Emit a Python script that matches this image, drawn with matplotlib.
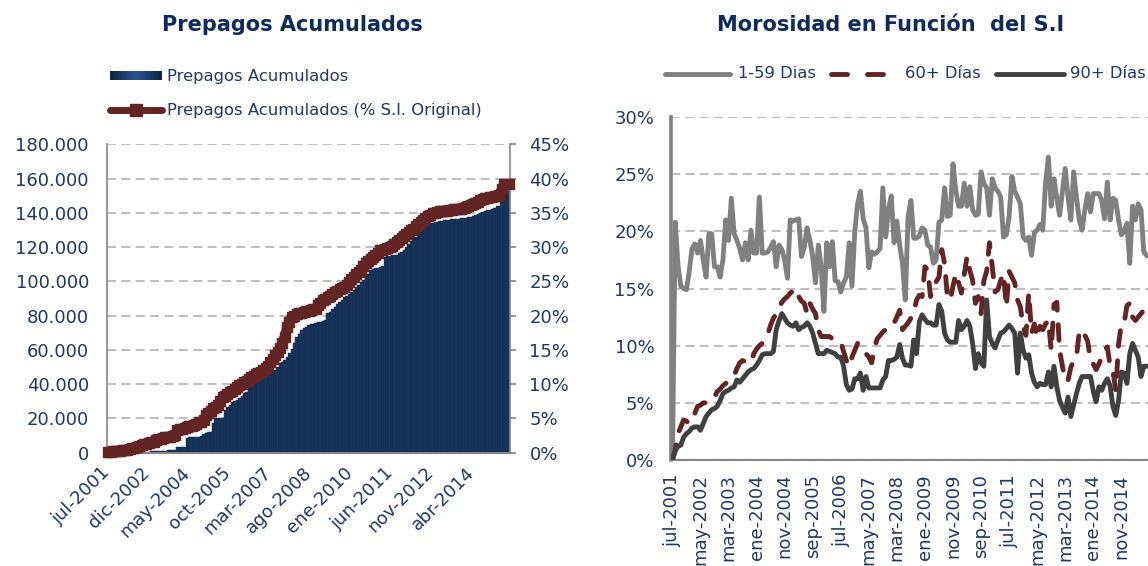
import matplotlib
matplotlib.use("Agg")
import matplotlib.pyplot as plt
from matplotlib.lines import Line2D
from matplotlib.colors import LinearSegmentedColormap
from matplotlib.transforms import ScaledTranslation
import numpy as np

plt.rcParams['font.family'] = ['DejaVu Sans']

# ---------------- data ----------------
# prepagos acumulados (monthly, jul-2001 .. jul-2015)
prepagos = [
    0, 0, 0, 0, 0, 100, 100, 150, 150, 200,
    250, 300, 300, 350, 400, 450, 500, 550, 600, 650,
    700, 800, 900, 1000, 1100, 1200, 1300, 1400, 1500,
    3000, 3200, 3400, 3400,
    8300, 9000, 9000, 9100, 9200, 9300, 9500,
    10900, 11500, 12000, 12100,
    17000,
    19900, 20000, 20000, 20200,
    24800, 26700,
    27700, 29600, 29800, 30500,
    31600, 33000, 34500, 35500,
    37400, 38500, 40000, 41200,
    42000, 43000, 44000, 45200,
    45500, 46500, 47300, 48100, 50000,
    52000, 52900, 54000, 55900, 58000,
    60700, 64000, 67500,
    69000, 71400, 72500, 73400, 74300,
    74800, 75200, 75500, 76000, 76500, 77000,
    77300, 81200, 82000, 83900, 85000,
    86500, 87900, 89000, 90800, 91500,
    92800, 94000, 95000, 96700, 98000,
    99500, 100600, 103000, 104500, 106400,
    107000, 107500, 108000, 108400, 109000,
    114200, 114800, 115000, 115200, 115200,
    115400, 116500, 117000, 118100, 120000,
    122000, 123500, 125000, 125800, 126800,
    128500, 130700, 131500, 132500, 133700,
    134200, 134500, 134800, 135000, 135300,
    135600, 135800, 136000, 136200, 136300,
    136500, 136600, 136700, 136800, 137000,
    137300, 137500, 137900, 138500, 139500,
    140000, 140500, 141000, 141500, 141800,
    142500, 143000, 143700, 144200, 146200,
    148000, 150200, 153000,
]

# prepagos acumulados as % of original S.I.
prepagos_pct = [
    0.1, 0.1, 0.15, 0.2, 0.2, 0.25, 0.3, 0.35, 0.4, 0.5,
    0.6, 0.7, 0.8, 1.0, 1.1, 1.2, 1.3, 1.4, 1.5, 1.6,
    1.8, 1.9, 2.0, 2.1, 2.2, 2.3, 2.3, 2.4, 2.6, 3.3,
    3.4, 3.5, 3.6, 3.7, 3.8, 3.9, 4.0, 4.2, 4.4, 4.5,
    4.7, 5.5, 5.8, 6.1, 6.5, 6.7, 6.9, 7.5, 8.1, 8.3,
    8.6, 8.9, 9.0, 9.2, 9.5, 9.8, 10.0, 10.3, 10.5, 10.8,
    11.0, 11.2, 11.5, 11.6, 11.8, 12.0, 12.3, 12.6, 13.2, 13.6,
    14.2, 14.7, 15.2, 16.0, 16.9, 18.3, 19.0, 19.8, 20.0, 20.2,
    20.3, 20.4, 20.5, 20.6, 20.7, 20.8, 20.9, 21.0, 21.5, 21.9,
    22.2, 22.4, 22.7, 22.9, 23.2, 23.4, 23.6, 23.8, 24.0, 24.2,
    24.5, 24.9, 25.3, 25.6, 26.0, 26.4, 26.6, 27.2, 27.6, 28.0,
    28.3, 28.6, 28.9, 29.2, 29.5, 29.6, 29.7, 29.8, 30.0, 30.2,
    30.4, 30.7, 31.0, 31.3, 31.6, 31.9, 32.2, 32.5, 32.7, 33.0,
    33.3, 33.6, 33.9, 34.2, 34.5, 34.7, 34.9, 35.0, 35.1, 35.2,
    35.2, 35.3, 35.3, 35.4, 35.4, 35.5, 35.5, 35.6, 35.6, 35.7,
    35.8, 36.0, 36.1, 36.3, 36.5, 36.6, 36.8, 37.0, 37.1, 37.2,
    37.3, 37.3, 37.4, 37.4, 37.6, 38.5, 39.2, 39.2, 39.2,
]

left_ticks = ["jul-2001", "dic-2002", "may-2004", "oct-2005", "mar-2007",
              "ago-2008", "ene-2010", "jun-2011", "nov-2012", "abr-2014"]

# morosidad (% of S.I.), monthly from jul-2001
mora_1_59 = [
    0, 20.8, 17.0, 15.2, 15.0, 14.9, 16.5, 18.5, 18.9, 18.1,
    19.2, 17.5, 16.0, 19.8, 19.8, 16.9, 16.9, 16.0, 17.5, 21.0,
    19.2, 22.9, 19.8, 19.2, 18.5, 17.5, 19.0, 17.5, 20.1, 18.1,
    18.1, 23.0, 18.1, 18.1, 18.2, 18.6, 19.1, 16.9, 18.8, 18.4,
    17.5, 15.9, 21.0, 20.9, 21.0, 21.1, 17.8, 18.6, 20.3, 19.2,
    17.8, 15.5, 18.8, 16.9, 13.0, 19.0, 16.9, 19.1, 15.7, 15.6,
    14.7, 15.5, 16.0, 19.0, 15.2, 20.0, 22.4, 23.5, 21.1, 20.3,
    16.8, 18.2, 18.0, 18.2, 18.5, 23.8, 19.5, 21.9, 23.1, 19.0,
    20.9, 18.8, 17.2, 14.0, 21.3, 22.7, 19.4, 19.4, 19.6, 20.3,
    20.1, 18.8, 18.6, 17.2, 17.5, 20.8, 21.0, 23.8, 21.3, 21.4,
    25.9, 23.6, 22.2, 22.2, 24.2, 22.2, 23.9, 21.9, 21.4, 21.5,
    25.2, 24.2, 23.8, 21.4, 24.6, 23.8, 23.5, 23.0, 19.5, 19.7,
    21.3, 24.8, 23.5, 23.0, 22.4, 19.5, 19.2, 19.5, 17.9, 19.9,
    20.1, 20.6, 20.1, 24.3, 26.5, 22.2, 24.6, 22.9, 21.4, 23.5,
    25.5, 23.0, 21.0, 25.2, 23.0, 21.0, 20.1, 21.9, 23.3, 21.7,
    23.3, 23.3, 23.3, 22.7, 21.1, 24.3, 21.0, 22.9, 22.7, 21.0,
    19.7, 20.0, 20.7, 17.2, 22.2, 21.0, 22.4, 21.9, 18.2, 17.9,
]

mora_60 = [
    0, 0.9, 2.3, 2.9, 3.5, 3.4, 3.2, 3.8, 4.1, 4.7,
    4.8, 5.0, 5.0, 5.1, 5.2, 5.5, 6.0, 6.2, 6.5, 6.7,
    6.9, 7.1, 7.4, 8.0, 8.5, 8.7, 8.6, 8.6, 8.5, 9.3,
    9.7, 10.0, 10.2, 10.6, 11.0, 11.8, 12.4, 12.8, 13.3, 13.8,
    14.1, 14.3, 14.6, 14.8, 15.0, 14.3, 13.9, 13.7, 12.8, 13.7,
    13.2, 12.8, 11.4, 10.8, 10.8, 10.8, 10.8, 10.6, 10.5, 10.4,
    10.3, 9.5, 8.7, 8.2, 9.0, 9.6, 10.2, 9.8, 9.6, 9.3,
    9.0, 8.5, 9.8, 10.6, 10.9, 11.2, 11.4, 11.4, 11.8, 12.0,
    12.5, 13.1, 11.4, 11.7, 12.0, 12.4, 12.8, 14.0, 14.4, 14.3,
    16.9, 16.6, 14.3, 15.3, 15.6, 16.0, 18.4, 17.2, 14.3, 14.0,
    15.2, 16.3, 15.5, 14.6, 16.2, 17.8, 16.6, 15.7, 13.7, 14.3,
    12.8, 15.7, 16.5, 19.0, 16.9, 14.7, 14.9, 15.7, 16.3, 13.4,
    16.5, 16.0, 15.5, 14.0, 13.4, 11.7, 10.9, 14.6, 11.1, 11.9,
    10.7, 11.7, 11.4, 11.9, 12.2, 9.6, 13.6, 13.8, 9.6, 8.2,
    6.9, 7.0, 8.1, 8.7, 9.0, 11.2, 11.4, 10.9, 10.4, 8.7,
    8.4, 7.9, 8.4, 9.0, 9.6, 9.9, 8.2, 7.8, 6.1, 10.1,
    11.9, 12.0, 13.5, 13.7, 12.5, 12.2, 12.5, 12.8, 13.1, 13.1,
]

mora_90 = [
    0, 0.8, 1.2, 1.3, 2.0, 2.3, 2.5, 2.8, 2.9, 2.9,
    2.6, 3.2, 3.8, 4.1, 4.4, 4.5, 4.7, 5.2, 5.8, 6.0,
    6.1, 6.3, 6.4, 7.0, 6.8, 7.1, 7.4, 7.7, 7.9, 8.0,
    8.3, 8.7, 9.2, 9.3, 9.3, 9.3, 9.5, 11.4, 12.2, 12.8,
    12.4, 12.0, 11.8, 11.7, 12.0, 11.4, 11.6, 11.7, 12.0, 11.7,
    11.1, 10.2, 9.3, 9.3, 9.3, 9.6, 9.5, 9.4, 9.3, 9.0,
    9.0, 8.2, 6.6, 6.1, 6.2, 7.1, 7.1, 7.6, 6.1, 7.3,
    6.3, 6.3, 6.3, 6.3, 6.3, 7.0, 7.3, 8.7, 8.7, 8.8,
    9.0, 10.1, 8.9, 8.3, 8.3, 8.2, 10.5, 9.3, 12.1, 12.7,
    12.3, 12.0, 12.0, 11.8, 11.8, 13.6, 13.0, 11.1, 10.5, 10.3,
    10.3, 10.3, 12.2, 11.4, 11.7, 12.2, 11.7, 10.2, 8.0, 9.3,
    8.5, 8.2, 14.0, 10.8, 10.2, 9.8, 10.5, 11.1, 11.2, 11.5,
    11.8, 11.5, 11.1, 7.6, 11.1, 9.6, 8.9, 9.2, 7.6, 6.8,
    6.4, 6.7, 6.6, 6.6, 7.7, 6.4, 8.2, 6.4, 5.2, 4.6,
    4.1, 5.5, 3.8, 4.8, 5.8, 6.7, 7.3, 7.3, 7.3, 7.3,
    6.0, 5.1, 6.4, 6.1, 6.7, 7.1, 6.5, 4.7, 3.9, 5.2,
    7.7, 7.6, 6.7, 9.3, 10.2, 9.6, 9.0, 7.3, 8.2, 8.2,
]

right_ticks = ["jul-2001", "may-2002", "mar-2003", "ene-2004", "nov-2004",
               "sep-2005", "jul-2006", "may-2007", "mar-2008", "ene-2009",
               "nov-2009", "sep-2010", "jul-2011", "may-2012", "mar-2013",
               "ene-2014", "nov-2014"]

# ---------------- style ----------------
NAVY = '#1F3864'
TITLE = '#0E2A5E'
MAROON = '#632523'
GRID = '#BFBFBF'
SPINE = '#868686'

W, H = 1148, 566
fig = plt.figure(figsize=(W / 100, H / 100), dpi=100)


def fx(px):
    return px / W


def fy(py):
    return 1 - py / H


# ---------------- left chart ----------------
ax1 = fig.add_axes([fx(107), fy(452.5), fx(510) - fx(107), fy(144.3) - fy(452.5)])
x1 = np.arange(len(prepagos))
ax1.bar(x1, prepagos, width=1.0, color='#17365D', edgecolor='#0F2746',
        linewidth=0.3, zorder=2)
ax1.set_xlim(-0.5, len(prepagos) - 0.5)
ax1.set_ylim(0, 180000)
yt = np.arange(0, 180001, 20000)
ax1.set_yticks(yt)
ax1.set_yticklabels([f"{v:,}".replace(",", ".") for v in yt])
ax1.yaxis.grid(True, color=GRID, linestyle=(0, (4.3, 2.6)), linewidth=1.5)
ax1.set_axisbelow(True)
ax1.set_xticks(np.arange(len(left_ticks)) * 17)
ax1.set_xticklabels(left_ticks, rotation=45, ha='right', va='top',
                    rotation_mode='anchor')
ax1.tick_params(axis='y', length=0, pad=13, labelsize=13, labelcolor=NAVY)
ax1.tick_params(axis='x', length=0, pad=8, labelsize=13, labelcolor=NAVY)
# nudge the slanted labels a bit to the left, like the original
shift = ScaledTranslation(-8 / 100, 0, fig.dpi_scale_trans)
for lab in ax1.get_xticklabels():
    lab.set_transform(lab.get_transform() + shift)
for s in ['top', 'right']:
    ax1.spines[s].set_visible(False)
for s in ['left', 'bottom']:
    ax1.spines[s].set_color(SPINE)
ax1.spines['left'].set_linewidth(1.2)
ax1.spines['bottom'].set_linewidth(1.5)

ax2 = ax1.twinx()
ax2.plot(x1, np.array(prepagos_pct) / 100, color=MAROON, lw=7, marker='s',
         ms=7, mec=MAROON, mfc=MAROON, clip_on=False, zorder=3,
         solid_joinstyle='miter')
ax2.set_ylim(0, 0.45)
pt = np.arange(0, 0.451, 0.05)
ax2.set_yticks(pt)
ax2.set_yticklabels([f"{round(v * 100)}%" for v in pt])
ax2.tick_params(axis='y', length=4, width=1.2, color=SPINE, pad=10,
                labelsize=13, labelcolor=NAVY)
for s in ['top', 'left', 'bottom']:
    ax2.spines[s].set_visible(False)
ax2.spines['right'].set_color(SPINE)
ax2.spines['right'].set_linewidth(1.2)

fig.text(fx(292), fy(25), 'Prepagos Acumulados', ha='center', va='center',
         fontsize=15, fontweight='bold', color=TITLE)

# legend (left)
lg = fig.add_axes([fx(110), fy(80), fx(162) - fx(110), 9 / H])
grad = np.concatenate([np.linspace(0, 1, 50), np.linspace(1, 0, 50)])[None, :]
cmap = LinearSegmentedColormap.from_list('bar', ['#0F2340', '#2B5490'])
lg.imshow(grad, aspect='auto', cmap=cmap)
lg.axis('off')
fig.text(fx(167), fy(76), 'Prepagos Acumulados', ha='left', va='center',
         fontsize=11.8, color=NAVY)
fig.add_artist(Line2D([fx(110), fx(162)], [fy(110), fy(110)], lw=5,
                      color=MAROON, solid_capstyle='round'))
fig.add_artist(Line2D([fx(136)], [fy(110)], marker='s', ms=8, color=MAROON))
fig.text(fx(167), fy(110), 'Prepagos Acumulados (% S.I. Original)',
         ha='left', va='center', fontsize=11.8, color=NAVY)

# ---------------- right chart ----------------
ax3 = fig.add_axes([fx(671), fy(460), 1 - fx(671), fy(117) - fy(460)])
x3 = np.arange(len(mora_1_59))
ax3.plot(x3, np.array(mora_1_59) / 100, color='#808080', lw=3.5,
         solid_joinstyle='round', zorder=3)
ax3.plot(x3, np.array(mora_60) / 100, color=MAROON, lw=3.5,
         linestyle=(0, (3.2, 3.0)), dash_capstyle='round', zorder=4)
ax3.plot(x3, np.array(mora_90) / 100, color='#404040', lw=3.5,
         solid_joinstyle='round', zorder=5)
ax3.set_xlim(-0.5, len(mora_1_59) - 0.5)
ax3.set_ylim(0, 0.30)
rt = np.arange(0, 0.301, 0.05)
ax3.set_yticks(rt)
ax3.set_yticklabels([f"{round(v * 100)}%" for v in rt])
ax3.yaxis.grid(True, color=GRID, linestyle=(0, (4.3, 2.6)), linewidth=1.5)
ax3.set_axisbelow(True)
ax3.set_xticks(np.arange(len(right_ticks)) * 10)
ax3.set_xticklabels(right_ticks, rotation=90, ha='center', va='top')
ax3.tick_params(axis='y', length=0, pad=12, labelsize=13, labelcolor=NAVY)
ax3.tick_params(axis='x', length=0, pad=10, labelsize=13, labelcolor=NAVY)
for s in ['top', 'right']:
    ax3.spines[s].set_visible(False)
ax3.spines['left'].set_color('#808080')
ax3.spines['left'].set_linewidth(2.6)
ax3.spines['bottom'].set_color(SPINE)
ax3.spines['bottom'].set_linewidth(1.5)

fig.text(fx(891), fy(25), 'Morosidad en Función  del S.I', ha='center',
         va='center', fontsize=15, fontweight='bold', color=TITLE)

# legend (right)
ly = fy(74)
fig.add_artist(Line2D([fx(665), fx(730)], [ly, ly], lw=3.5, color='#808080',
                      solid_capstyle='round'))
fig.text(fx(738), ly, '1-59 Dias', ha='left', va='center', fontsize=11.8,
         color=NAVY)
fig.add_artist(Line2D([fx(831), fx(847)], [ly, ly], lw=3.5, color=MAROON,
                      solid_capstyle='round'))
fig.add_artist(Line2D([fx(867), fx(883)], [ly, ly], lw=3.5, color=MAROON,
                      solid_capstyle='round'))
fig.text(fx(905), ly, '60+ Días', ha='left', va='center', fontsize=11.8,
         color=NAVY)
fig.add_artist(Line2D([fx(996), fx(1064)], [ly, ly], lw=3.5, color='#404040',
                      solid_capstyle='round'))
fig.text(fx(1070), ly, '90+ Días', ha='left', va='center', fontsize=11.8,
         color=NAVY)

fig.savefig('out.png', dpi=100)
